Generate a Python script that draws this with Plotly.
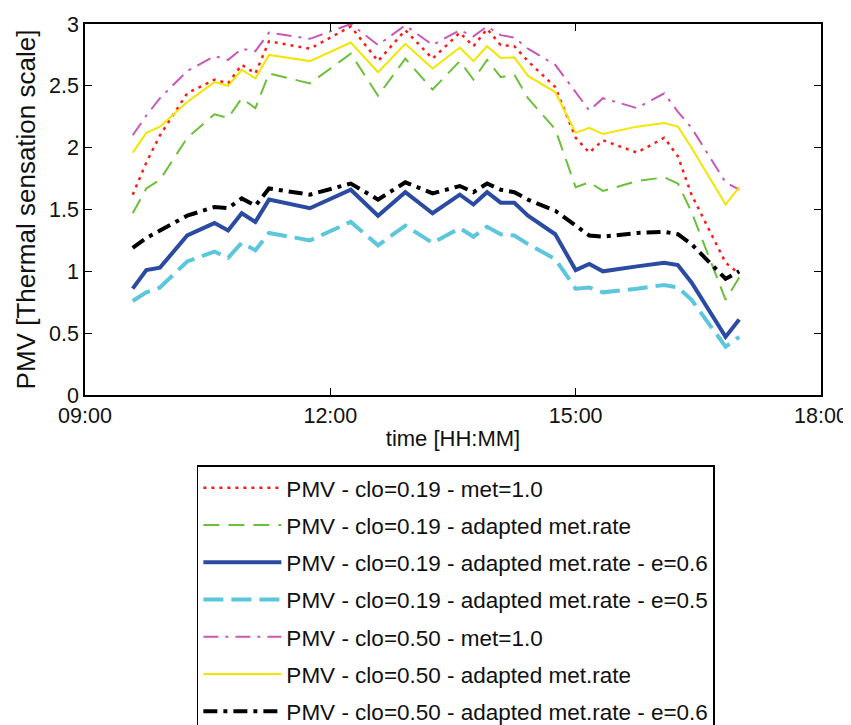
import plotly.graph_objects as go

times = ["09:35", "09:45", "09:55", "10:15", "10:35", "10:45", "10:55", "11:05", "11:15", "11:45",
         "12:15", "12:35", "12:55", "13:15", "13:35", "13:45", "13:55", "14:05", "14:15", "14:25",
         "14:45", "15:00", "15:10", "15:20", "15:45", "16:05", "16:15", "16:25", "16:50", "17:00"]

pmv_019_met10 = [1.62, 1.88, 2.10, 2.44, 2.55, 2.52, 2.67, 2.60, 2.86, 2.80,
                 2.98, 2.70, 2.95, 2.72, 2.93, 2.82, 2.96, 2.83, 2.82, 2.70,
                 2.49, 2.08, 1.96, 2.06, 1.96, 2.08, 1.93, 1.62, 1.07, 0.98]
pmv_019_adapted = [1.47, 1.67, 1.74, 2.08, 2.27, 2.24, 2.40, 2.32, 2.60, 2.52,
                   2.76, 2.42, 2.72, 2.47, 2.70, 2.55, 2.71, 2.57, 2.59, 2.40,
                   2.15, 1.68, 1.72, 1.65, 1.73, 1.76, 1.71, 1.48, 0.77, 0.95]
pmv_019_adapted_e06 = [0.86, 1.01, 1.03, 1.29, 1.39, 1.33, 1.47, 1.40, 1.58, 1.51,
                       1.66, 1.45, 1.64, 1.47, 1.62, 1.54, 1.64, 1.555, 1.555, 1.45,
                       1.30, 1.01, 1.06, 1.00, 1.04, 1.07, 1.05, 0.91, 0.47, 0.61]
pmv_019_adapted_e05 = [0.76, 0.83, 0.87, 1.08, 1.16, 1.11, 1.23, 1.17, 1.31, 1.25,
                       1.40, 1.21, 1.37, 1.23, 1.35, 1.28, 1.36, 1.30, 1.29, 1.22,
                       1.10, 0.86, 0.87, 0.83, 0.86, 0.89, 0.87, 0.77, 0.39, 0.47]
pmv_050_met10 = [2.10, 2.26, 2.40, 2.62, 2.74, 2.71, 2.80, 2.78, 2.93, 2.88,
                 3.00, 2.83, 2.99, 2.83, 2.95, 2.90, 2.98, 2.91, 2.89, 2.80,
                 2.67, 2.45, 2.30, 2.40, 2.32, 2.44, 2.29, 2.16, 1.72, 1.66]
pmv_050_adapted = [1.96, 2.12, 2.17, 2.37, 2.53, 2.50, 2.63, 2.56, 2.75, 2.70,
                   2.85, 2.61, 2.84, 2.64, 2.81, 2.70, 2.82, 2.725, 2.73, 2.58,
                   2.45, 2.12, 2.16, 2.11, 2.17, 2.20, 2.17, 2.00, 1.54, 1.68]
pmv_050_adapted_e06 = [1.19, 1.27, 1.33, 1.45, 1.52, 1.51, 1.59, 1.53, 1.67, 1.62,
                       1.71, 1.58, 1.72, 1.63, 1.69, 1.64, 1.71, 1.66, 1.64, 1.58,
                       1.49, 1.37, 1.29, 1.28, 1.31, 1.32, 1.30, 1.22, 0.94, 1.00]

names = ["PMV - clo=0.19 - met=1.0",
         "PMV - clo=0.19 - adapted met.rate",
         "PMV - clo=0.19 - adapted met.rate - e=0.6",
         "PMV - clo=0.19 - adapted met.rate - e=0.5",
         "PMV - clo=0.50 - met=1.0",
         "PMV - clo=0.50 - adapted met.rate",
         "PMV - clo=0.50 - adapted met.rate - e=0.6"]

x_ticks = ["09:00", "12:00", "15:00", "18:00"]

series = [pmv_019_met10, pmv_019_adapted, pmv_019_adapted_e06, pmv_019_adapted_e05,
          pmv_050_met10, pmv_050_adapted, pmv_050_adapted_e06]
styles = [
    dict(color="#ff1a1a", width=2.5, dash="3px,5px"),
    dict(color="#6cbf3a", width=2, dash="16px,9px"),
    dict(color="#2b4ba3", width=4, dash="solid"),
    dict(color="#5cc6dc", width=4, dash="20px,8px"),
    dict(color="#c957b8", width=2, dash="15px,7px,3px,7px"),
    dict(color="#f2e600", width=2, dash="solid"),
    dict(color="#000000", width=4, dash="14px,6px,4px,6px"),
]

day = "2000-01-01 "
xs = [day + t for t in times]

fig = go.Figure()
for i, (name, vals, st) in enumerate(zip(names, series, styles)):
    fig.add_trace(go.Scatter(x=xs, y=vals, mode="lines", name=name, line=st,
                             legendgroup="g%d" % i))

axis_common = dict(showline=True, linecolor="black", linewidth=1.5, mirror="ticks",
                   ticks="inside", ticklen=7, tickcolor="black", showgrid=False,
                   zeroline=False, tickfont=dict(family="Arial", size=21.5, color="#111"))

fig.update_xaxes(type="date", range=[day + x_ticks[0], day + x_ticks[-1]],
                 tickvals=[day + t for t in x_ticks], ticktext=x_ticks,
                 title=dict(text="time [HH:MM]", font=dict(family="Arial", size=22, color="#111"), standoff=4),
                 **axis_common)
fig.update_yaxes(range=[0, 3], dtick=0.5,
                 title=dict(text="PMV [Thermal sensation scale]", font=dict(family="Arial", size=26, color="#111"), standoff=6),
                 **axis_common)

fig.update_layout(
    width=851, height=725,
    paper_bgcolor="white", plot_bgcolor="white",
    margin=dict(l=77, r=38, t=16, b=338, autoexpand=False),
    font=dict(family="Arial", color="#111"),
    legend=dict(x=0.152, y=-0.189, xanchor="left", yanchor="top",
                bordercolor="black", borderwidth=1.5, bgcolor="white",
                font=dict(family="Arial", size=22.5, color="#111"),
                itemwidth=78, tracegroupgap=5),
    showlegend=True,
)

fig.write_html("out.html")
